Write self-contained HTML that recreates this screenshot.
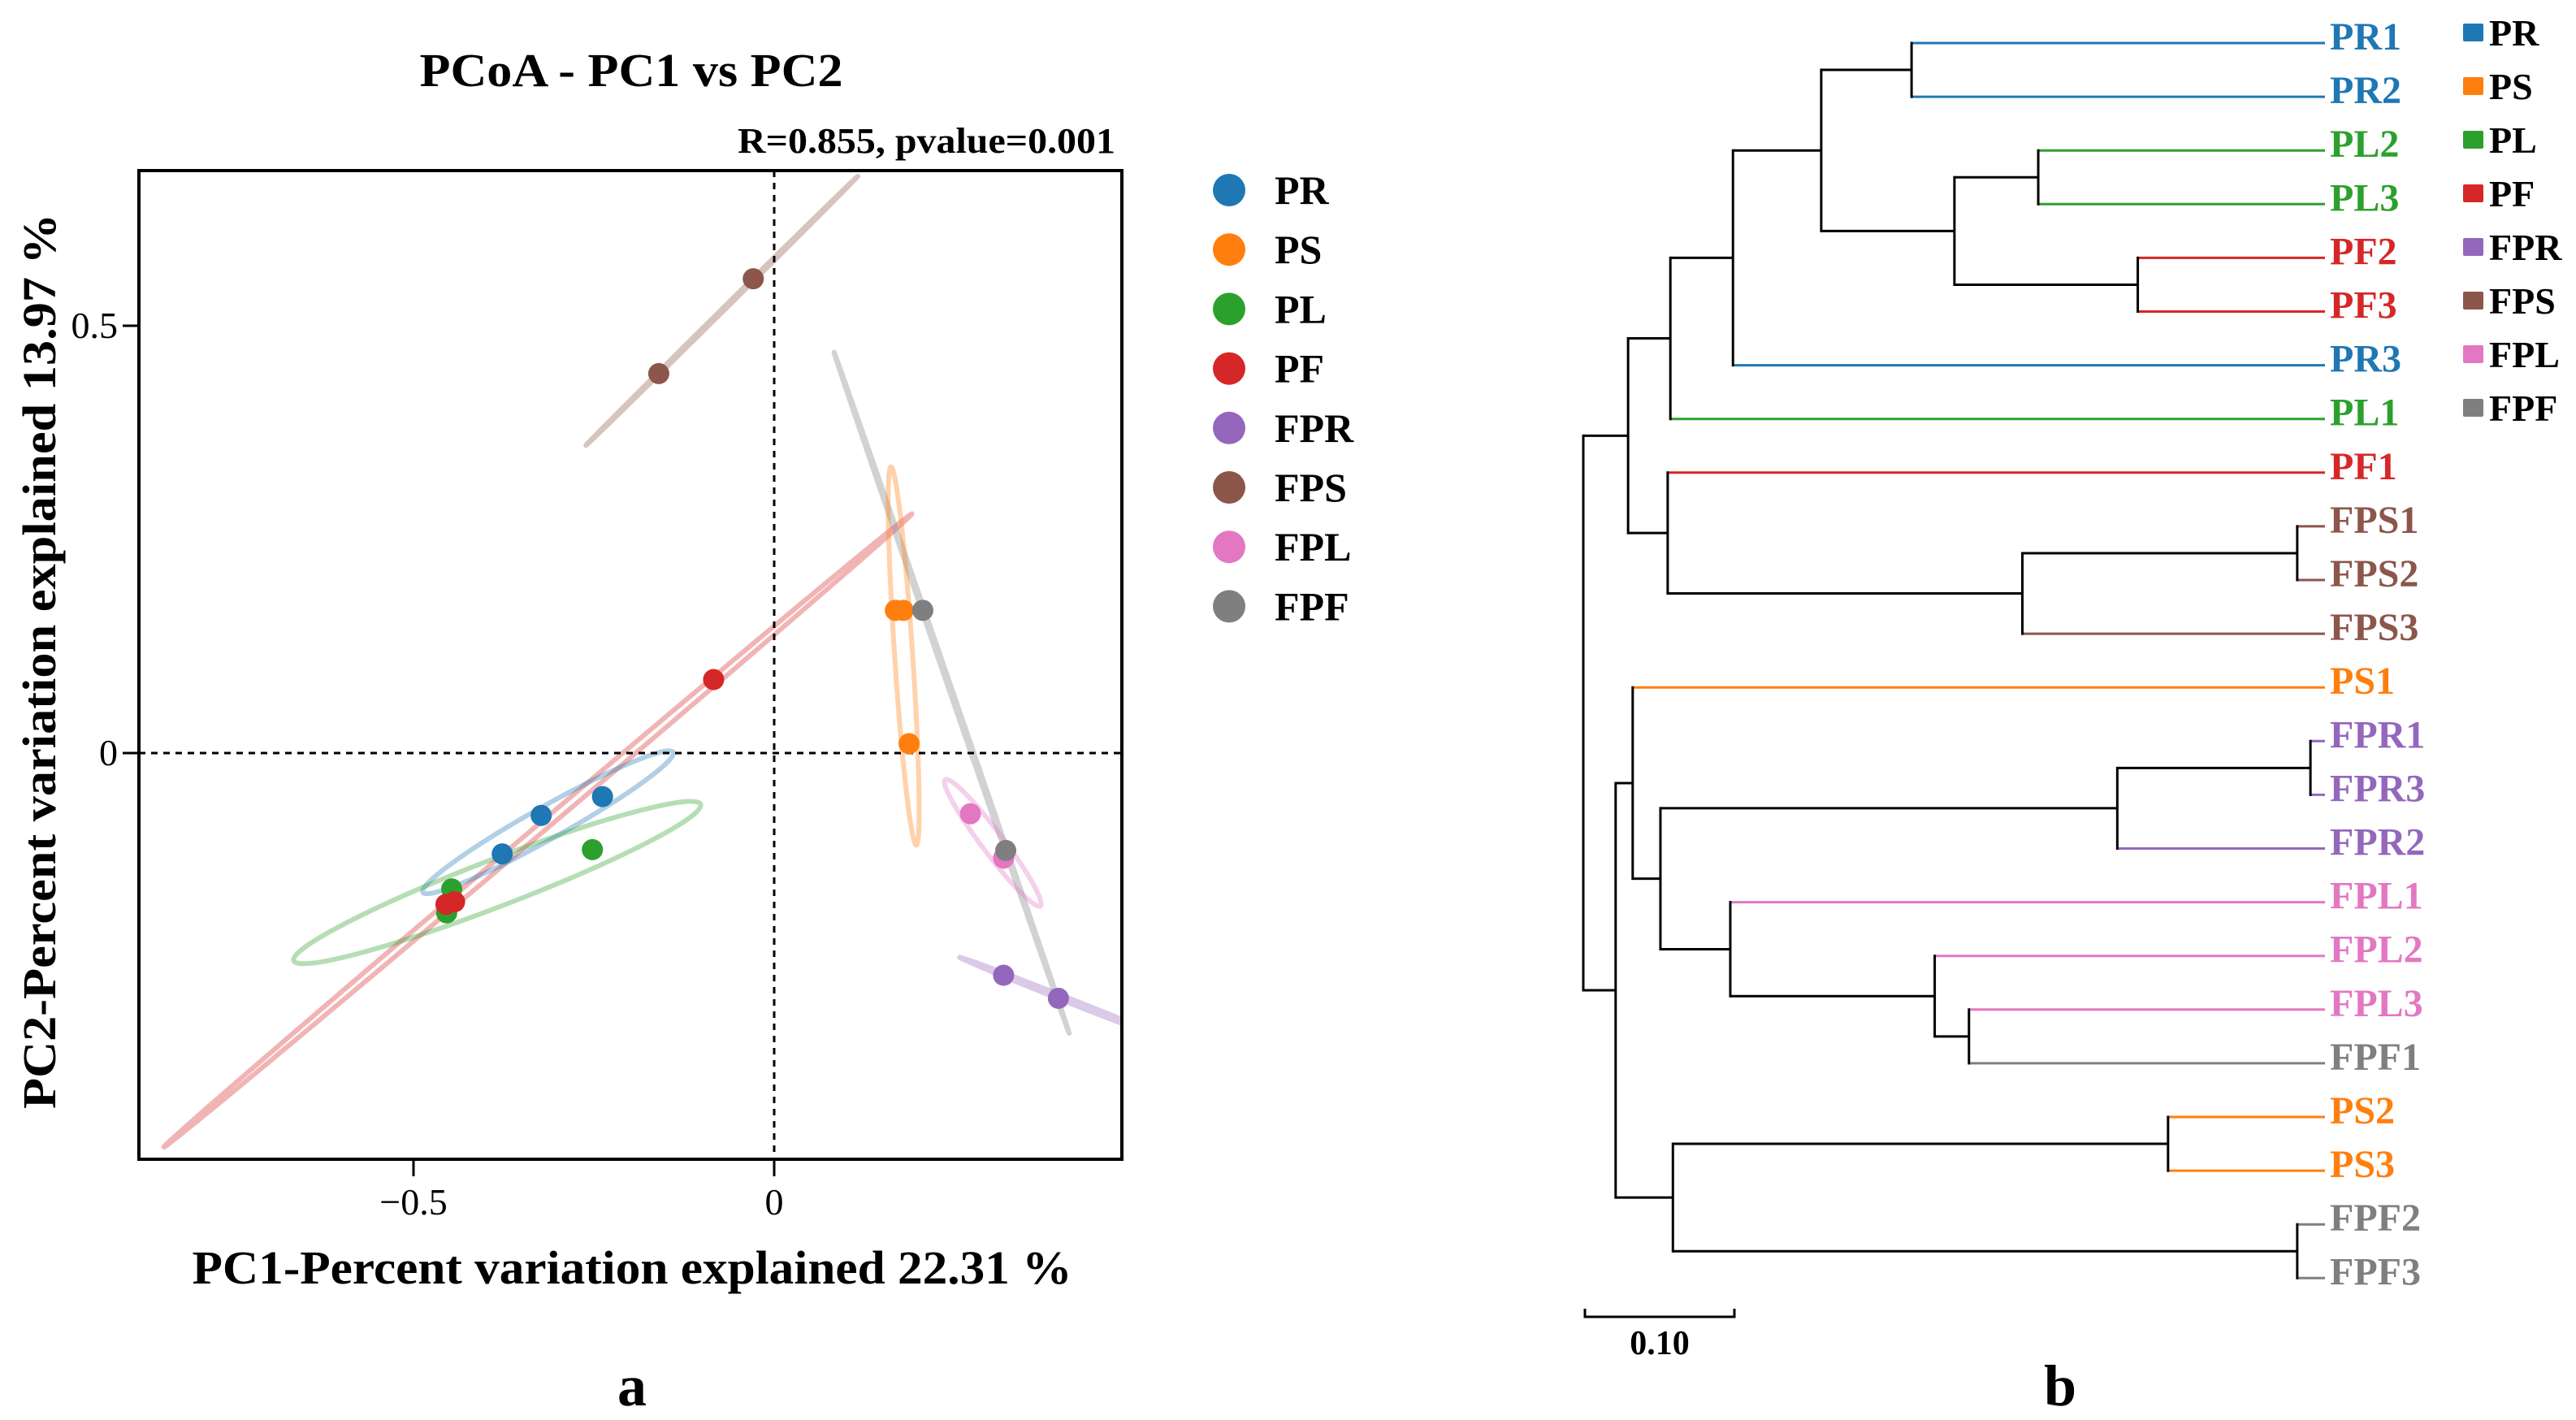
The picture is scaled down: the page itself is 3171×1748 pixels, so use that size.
<!DOCTYPE html>
<html><head><meta charset="utf-8"><style>
html,body{margin:0;padding:0;background:#fff;}
svg{display:block;font-family:"Liberation Serif",serif;}
</style></head><body>
<svg id="svg" width="3171" height="1748" viewBox="0 0 3171 1748" xmlns="http://www.w3.org/2000/svg">
<defs><clipPath id="plotclip"><rect x="171" y="210" width="1210" height="1217"/></clipPath></defs>
<g id="pcoa">
<text x="777" y="106" text-anchor="middle" font-size="58" font-weight="bold" textLength="521" lengthAdjust="spacingAndGlyphs">PCoA - PC1 vs PC2</text>
<text x="1373" y="188" text-anchor="end" font-size="44" font-weight="bold" textLength="465" lengthAdjust="spacingAndGlyphs">R=0.855, pvalue=0.001</text>
<g id="ellipses" clip-path="url(#plotclip)"></g>
<g id="refl"></g>
<g id="pts"></g>
<rect x="171" y="210" width="1210" height="1217" fill="none" stroke="#000" stroke-width="4"/>
<g id="ticks"></g>
<text x="778" y="1580" text-anchor="middle" font-size="58" font-weight="bold" textLength="1083" lengthAdjust="spacingAndGlyphs">PC1-Percent variation explained 22.31 %</text>
<text transform="translate(68,814) rotate(-90)" text-anchor="middle" font-size="58" font-weight="bold" textLength="1102" lengthAdjust="spacingAndGlyphs">PC2-Percent variation explained 13.97 %</text>
<text x="778" y="1730" text-anchor="middle" font-size="72" font-weight="bold">a</text>
<g id="legA"></g>
</g>
<g id="tree"></g>
<g id="legB"></g>
<g>
<path d="M1951 1611 V1621 H2135 V1611" fill="none" stroke="#000" stroke-width="3"/>
<text x="2043" y="1667" text-anchor="middle" font-size="42" font-weight="bold">0.10</text>
</g>
<text x="2536" y="1730" text-anchor="middle" font-size="72" font-weight="bold">b</text>
</svg>
<script>
const groups=["PR","PS","PL","PF","FPR","FPS","FPL","FPF"];
const colors=["#1f77b4","#ff7f0e","#2ca02c","#d62728","#9467bd","#8c564b","#e377c2","#7f7f7f"];
const pointGroup=[0,0,0,1,1,1,2,2,2,3,3,3,4,4,5,5,6,6,7,7];
const pointX=[-0.323,-0.238,-0.377,0.168,0.179,0.187,-0.447,-0.454,-0.252,-0.084,-0.455,-0.443,0.318,0.394,-0.029,-0.160,0.272,0.318,0.206,0.321];
const pointY=[-0.073,-0.051,-0.118,0.167,0.167,0.011,-0.159,-0.187,-0.113,0.086,-0.177,-0.174,-0.260,-0.287,0.555,0.444,-0.071,-0.123,0.167,-0.114];
const ellGroup=[3,5,7,1,0,2,6,4];
const ellX1=[-0.846,-0.261,0.083,0.162,-0.487,-0.666,0.237,0.257];
const ellY1=[-0.461,0.360,0.469,0.335,-0.163,-0.243,-0.031,-0.239];
const ellX2=[0.191,0.116,0.409,0.197,-0.140,-0.102,0.369,0.560];
const ellY2=[0.280,0.675,-0.328,-0.108,0.001,-0.060,-0.179,-0.340];
const ellW=[0.012,0.003,0.004,0.025,0.045,0.065,0.03,0.006];
const xTicks=[-0.5,0];const xTickLabels=["\u22120.5","0"];
const yTicks=[0,0.5];const yTickLabels=["0","0.5"];
const leaves=["PR1","PR2","PL2","PL3","PF2","PF3","PR3","PL1","PF1","FPS1","FPS2","FPS3","PS1","FPR1","FPR3","FPR2","FPL1","FPL2","FPL3","FPF1","PS2","PS3","FPF2","FPF3"];
const leafGroup=[0,0,2,2,3,3,0,2,3,5,5,5,1,4,4,4,6,6,6,7,1,1,7,7];
const tree=[0,
 [0.0302,
  [0.0587,[0.1009,[0.1604,[0.2213,0,1],[0.2502,[0.3067,2,3],[0.3738,4,5]]],6],7],
  [0.0569,8,[0.296,[0.4813,9,10],11]]],
 [0.0218,
  [0.0333,12,[0.052,[0.36,[0.4902,13,14],15],[0.0991,16,[0.2369,17,[0.26,18,19]]]]],
  [0.0604,[0.3942,20,21],[0.4813,22,23]]]];
const leafHeight=0.5;

const NS="http://www.w3.org/2000/svg";
function mk(t,a,p){const e=document.createElementNS(NS,t);for(const k in a)e.setAttribute(k,a[k]);p.appendChild(e);return e;}
const sx=x=>953+x*888, sy=y=>927-y*1052;
const gE=document.getElementById('ellipses');
ellGroup.forEach((g,i)=>{
 const x1=sx(ellX1[i]),y1=sy(ellY1[i]),x2=sx(ellX2[i]),y2=sy(ellY2[i]);
 const cx=(x1+x2)/2,cy=(y1+y2)/2,rx=Math.hypot(x2-x1,y2-y1)/2,ry=ellW[i]*888/2;
 const ang=Math.atan2(y2-y1,x2-x1)*180/Math.PI;
 const e=mk('ellipse',{cx,cy,rx,ry:Math.max(ry,1.5),transform:`rotate(${ang} ${cx} ${cy})`,fill:'none',stroke:colors[g],'stroke-opacity':0.35,'stroke-width':6},gE);
 
 
});
const gR=document.getElementById('refl');
let l=mk('line',{x1:171,x2:1381,y1:sy(0),y2:sy(0),stroke:'#000','stroke-width':3,'stroke-dasharray':'8 7'},gR);


l=mk('line',{x1:sx(0),x2:sx(0),y1:210,y2:1427,stroke:'#000','stroke-width':3,'stroke-dasharray':'8 7'},gR);


const gP=document.getElementById('pts');
pointX.forEach((x,i)=>{
 const c=mk('circle',{cx:sx(x),cy:sy(pointY[i]),r:13,fill:colors[pointGroup[i]]},gP);
 
 
});
const gT=document.getElementById('ticks');
xTicks.forEach((v,i)=>{
 mk('line',{x1:sx(v),x2:sx(v),y1:1427,y2:1448,stroke:'#000','stroke-width':3},gT);
 const t=mk('text',{x:sx(v),y:1495,'text-anchor':'middle','font-size':46},gT);t.textContent=xTickLabels[i];
 
 
});
yTicks.forEach((v,i)=>{
 mk('line',{x1:151,x2:171,y1:sy(v),y2:sy(v),stroke:'#000','stroke-width':3},gT);
 const t=mk('text',{x:145,y:sy(v)+15,'text-anchor':'end','font-size':46},gT);t.textContent=yTickLabels[i];
 
 
});
const gL=document.getElementById('legA');
groups.forEach((g,i)=>{
 const y=234+i*73.2;
 const c=mk('circle',{cx:1513,cy:y,r:20,fill:colors[i]},gL);
 
 
 const t=mk('text',{x:1569,y:y+17,'font-size':50,'font-weight':'bold'},gL);t.textContent=g;
 
 
});
const tx=d=>1949+d*1826, ty=i=>53+i*66.1;
const gTr=document.getElementById('tree');
function draw(n){
 if(typeof n==='number'){return {y:ty(n),leaf:n};}
 const h=n[0];const a=draw(n[1]),b=draw(n[2]);
 [a,b].forEach(c=>{
  const x2=c.leaf!==undefined?tx(leafHeight):c.x;
  const col=c.leaf!==undefined?colors[leafGroup[c.leaf]]:'#000';
  const ln=mk('line',{x1:tx(h),x2:x2,y1:c.y,y2:c.y,stroke:col,'stroke-width':3},gTr);
  
  
 });
 const v=mk('line',{x1:tx(h),x2:tx(h),y1:a.y-1.5,y2:b.y+1.5,stroke:'#000','stroke-width':3},gTr);
 
 
 return {x:tx(h),y:(a.y+b.y)/2};
}
draw(tree);
leaves.forEach((s,i)=>{
 const t=mk('text',{x:2868,y:ty(i)+8,'font-size':48,'font-weight':'bold',fill:colors[leafGroup[i]]},gTr);t.textContent=s;
 
 
});
const gB=document.getElementById('legB');
groups.forEach((g,i)=>{
 const y=40+i*66;
 const r=mk('rect',{x:3032,y:y-11,width:25,height:22,rx:2,fill:colors[i]},gB);
 
 
 const t=mk('text',{x:3064,y:y+16,'font-size':46,'font-weight':'bold'},gB);t.textContent=g;
 
 
});
</script>
</body></html>
